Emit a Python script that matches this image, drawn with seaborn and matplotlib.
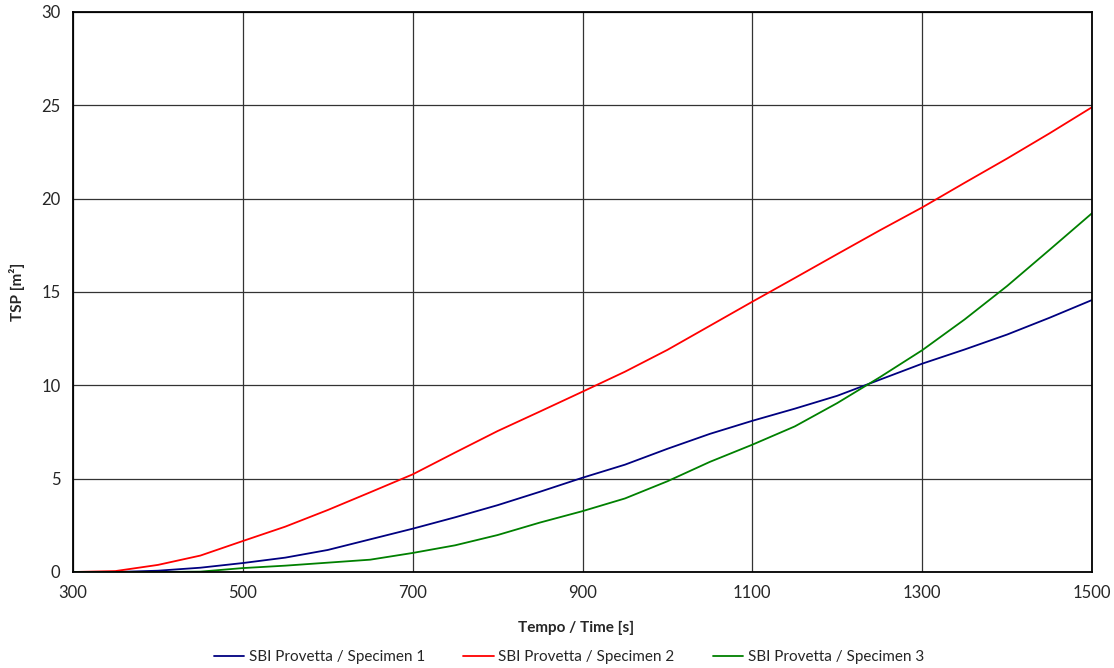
import numpy as np
import pandas as pd
import matplotlib
matplotlib.use("Agg")
import matplotlib.pyplot as plt
import seaborn as sns

time_s = [300, 350, 400, 450, 500, 550, 600, 650, 700, 750, 800, 850, 900, 950,
          1000, 1050, 1100, 1150, 1200, 1250, 1300, 1350, 1400, 1450, 1500]
specimen1 = [0.0, 0.0, 0.07, 0.23, 0.48, 0.77, 1.18, 1.75, 2.32, 2.93, 3.58, 4.3, 5.05, 5.75,
             6.6, 7.4, 8.1, 8.75, 9.44, 10.3, 11.16, 11.92, 12.72, 13.62, 14.57]
specimen2 = [0.0, 0.05, 0.38, 0.88, 1.66, 2.43, 3.32, 4.27, 5.23, 6.4, 7.55, 8.6, 9.66, 10.73,
             11.9, 13.19, 14.48, 15.75, 17.03, 18.3, 19.53, 20.85, 22.15, 23.5, 24.9]
specimen3 = [0.0, 0.0, 0.0, 0.02, 0.21, 0.34, 0.5, 0.66, 1.02, 1.43, 1.98, 2.65, 3.26, 3.94,
             4.86, 5.9, 6.82, 7.8, 9.05, 10.43, 11.88, 13.53, 15.32, 17.26, 19.22]
series_names = ["SBI Provetta / Specimen 1", "SBI Provetta / Specimen 2", "SBI Provetta / Specimen 3"]
series_colors = ["#000080", "#ff0000", "#008000"]

df = pd.concat([
    pd.DataFrame({"t": time_s, "v": vals, "s": name})
    for vals, name in zip([specimen1, specimen2, specimen3], series_names)
])

sns.set_style("white")
plt.rcParams["font.family"] = ["Lato", "DejaVu Sans"]

fig = plt.figure(figsize=(11.14, 6.68), dpi=100)
ax = fig.add_axes([73/1114, 1-572/668, (1092-73)/1114, (572-12)/668])

sns.lineplot(data=df, x="t", y="v", hue="s", palette=dict(zip(series_names, series_colors)),
             ax=ax, linewidth=1.3, legend=True)

ax.set_xlim(300, 1500)
ax.set_ylim(0, 30)
ax.set_xticks(np.arange(300, 1501, 200))
ax.set_yticks(np.arange(0, 31, 5))
ax.grid(True, color="#333333", linewidth=0.9)
ax.set_axisbelow(True)
for sp in ax.spines.values():
    sp.set_visible(True)
    sp.set_color("black")
    sp.set_linewidth(1.3)
ax.tick_params(axis="both", direction="out", length=5, width=1, color="black",
               labelsize=12, pad=4)
ax.set_xlabel("Tempo / Time [s]", fontsize=11, fontweight="bold")
ax.set_ylabel("TSP [m²]", fontsize=11, fontweight="bold")
ax.xaxis.set_label_coords((576-73)/1019, -(628-572)/560)
ax.yaxis.set_label_coords((17-73)/1019, 0.5)
ax.xaxis.label.set_va("center")
ax.yaxis.label.set_va("center")

ax.legend(loc="center", bbox_to_anchor=((569-73)/1019, -(657-572)/560), ncol=3, frameon=False,
          fontsize=11, handlelength=2.0, handletextpad=0.3, columnspacing=2.5)

fig.savefig("out.png", dpi=100)
